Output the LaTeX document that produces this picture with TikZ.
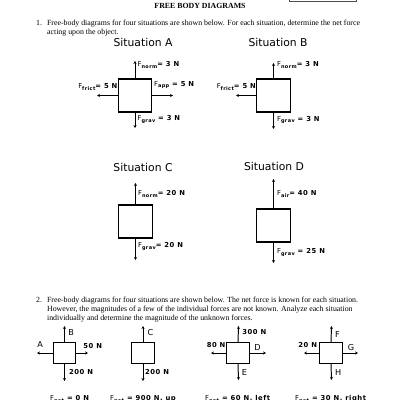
\documentclass[tikz,border=0pt]{standalone}
\usepackage{fontspec}
\setmainfont{Liberation Serif}
\newfontfamily\sitfont{DejaVu Sans}
\newfontfamily\pixfont[LetterSpace=8]{DejaVu Sans}
\usetikzlibrary{arrows.meta}
\newcommand\Fsub[1]{{\mdseries F}\raisebox{-2.4pt}{\fontsize{7.6}{8}\selectfont #1}}
\begin{document}
\begin{tikzpicture}[x=1.53pt,y=-1.53pt,
  body/.style={font=\fontsize{12}{13.8}\selectfont, anchor=base west, inner sep=0pt},
  sit/.style={font=\sitfont\fontsize{16.5}{18}\selectfont, anchor=base, inner sep=0pt},
  flab/.style={font=\pixfont\bfseries\fontsize{10.4}{11}\selectfont, anchor=base west, inner sep=0pt},
  flabr/.style={flab, anchor=base east},
  letter/.style={font=\sitfont\fontsize{12.5}{14}\selectfont, anchor=base west, inner sep=0pt},
  bigbox/.style={draw, line width=1.7pt, minimum width=51pt, minimum height=50.5pt, inner sep=0pt, outer sep=0pt},
  smallbox/.style={draw, line width=1.6pt, minimum width=34pt, minimum height=33.5pt, inner sep=0pt, outer sep=0pt},
  frc/.style={line width=1.5pt, -{Stealth[length=4.5pt,width=4.5pt]}}]
\useasboundingbox (0,0) rectangle (400,400);

% header
\node[draw=black!70, line width=0.8pt, minimum width=102pt, minimum height=14pt, anchor=south west, inner sep=0pt] (namebox) at (289,2) {};
\node[font=\bfseries\fontsize{12}{14}\selectfont, anchor=base, inner sep=0pt] (title) at (200,8.6) {FREE BODY DIAGRAMS};

% question 1
\node[body] (n1) at (36,26) {1.};
\node[body] (q1a) at (47,26) {Free-body diagrams for four situations are shown below. For each situation, determine the net force};
\node[body] (q1b) at (47,35) {acting upon the object.};

% Situation A
\node[sit] (sA) at (143,46.5) {Situation A};
\node[bigbox] (boxA) at (135,95.5) {};
\coordinate (Aup) at (135,61);
\coordinate (Adn) at (135,128);
\coordinate (Art) at (173,95.5);
\coordinate (Alf) at (97,95.5);
\draw[frc] (boxA.north) -- (Aup);
\draw[frc] (boxA.south) -- (Adn);
\draw[frc] (boxA.east) -- (Art);
\draw[frc] (boxA.west) -- (Alf);
\node[flab] (Anorm) at (137.5,66.8) {\Fsub{norm}= 3 N};
\node[flab] (Aapp) at (154,86.3) {\Fsub{app} = 5 N};
\node[flabr] (Afr) at (117.5,89) {\Fsub{frict}= 5 N};
\node[flab] (Agrav) at (137.5,120.5) {\Fsub{grav} = 3 N};

% Situation B
\node[sit] (sB) at (278,46.5) {Situation B};
\node[bigbox] (boxB) at (273.5,95.5) {};
\coordinate (Bup) at (273.5,63);
\coordinate (Bdn) at (273.5,129);
\coordinate (Blf) at (236,95.5);
\draw[frc] (boxB.north) -- (Bup);
\draw[frc] (boxB.south) -- (Bdn);
\draw[frc] (boxB.west) -- (Blf);
\node[flab] (Bnorm) at (277,67) {\Fsub{norm}= 3 N};
\node[flabr] (Bfr) at (256,89) {\Fsub{frict}= 5 N};
\node[flab] (Bgrav) at (277,121.3) {\Fsub{grav} = 3 N};

% Situation C
\node[sit] (sC) at (143,171.5) {Situation C};
\node[bigbox] (boxC) at (135.5,221.5) {};
\coordinate (Cup) at (135.5,183);
\coordinate (Cdn) at (135.5,260);
\draw[frc] (boxC.north) -- (Cup);
\draw[frc] (boxC.south) -- (Cdn);
\node[flab] (Cnorm) at (138,195.5) {\Fsub{norm}= 20 N};
\node[flab] (Cgrav) at (138,247.5) {\Fsub{grav}= 20 N};

% Situation D
\node[sit] (sD) at (274,170.5) {Situation D};
\node[bigbox] (boxD) at (273.5,225.5) {};
\coordinate (Dup) at (273.5,179);
\coordinate (Ddn) at (273.5,263);
\draw[frc] (boxD.north) -- (Dup);
\draw[frc] (boxD.south) -- (Ddn);
\node[flab] (Dair) at (277,195.5) {\Fsub{air}= 40 N};
\node[flab] (Dgrav) at (277,253.5) {\Fsub{grav} = 25 N};

% question 2
\node[body] (n2) at (36,302) {2.};
\node[body] (q2a) at (47,302) {Free-body diagrams for four situations are shown below. The net force is known for each situation.};
\node[body] (q2b) at (47,311) {However, the magnitudes of a few of the individual forces are not known. Analyze each situation};
\node[body] (q2c) at (47,320) {individually and determine the magnitude of the unknown forces.};

% diagram 1
\node[smallbox] (b1) at (64.5,353) {};
\coordinate (b1up) at (64.5,326);
\coordinate (b1dn) at (64.5,381);
\coordinate (b1lf) at (37,353);
\coordinate (b1rt) at (88,353);
\draw[frc] (b1.north) -- (b1up);
\draw[frc] (b1.south) -- (b1dn);
\draw[frc] (b1.west) -- (b1lf);
\draw[frc] (b1.east) -- (b1rt);
\node[letter] (LB) at (68.3,335) {B};
\node[letter] (LA) at (37.3,347) {A};
\node[flab] (L50) at (83.3,348.3) {50 N};
\node[flab] (L200a) at (69,374.3) {200 N};

% diagram 2
\node[smallbox] (b2) at (143,353) {};
\coordinate (b2up) at (143,326);
\coordinate (b2dn) at (143,381);
\draw[frc] (b2.north) -- (b2up);
\draw[frc] (b2.south) -- (b2dn);
\node[letter] (LC) at (147.5,335) {C};
\node[flab] (L200b) at (145,374.3) {200 N};

% diagram 3
\node[smallbox] (b3) at (238,353) {};
\coordinate (b3up) at (238.5,326);
\coordinate (b3dn) at (238.5,380);
\coordinate (b3lf) at (211,353);
\coordinate (b3rt) at (266,353);
\draw[frc] (b3.north) -- (b3up);
\draw[frc] (b3.south) -- (b3dn);
\draw[frc] (b3.west) -- (b3lf);
\draw[frc] (b3.east) -- (b3rt);
\node[flab] (L300) at (242.3,334) {300 N};
\node[flab] (L80) at (206.7,347.7) {80 N};
\node[letter] (LD) at (254.3,350) {D};
\node[letter] (LE) at (241.7,375.7) {E};

% diagram 4
\node[smallbox] (b4) at (331,353) {};
\coordinate (b4up) at (331.5,326);
\coordinate (b4dn) at (331.5,380);
\coordinate (b4lf) at (304,353);
\coordinate (b4rt) at (358,353);
\draw[frc] (b4.north) -- (b4up);
\draw[frc] (b4.south) -- (b4dn);
\draw[frc] (b4.west) -- (b4lf);
\draw[frc] (b4.east) -- (b4rt);
\node[letter] (LF) at (335,337) {F};
\node[flab] (L20) at (298.3,347.7) {20 N};
\node[letter] (LG) at (347.7,350) {G};
\node[letter] (LH) at (335,375.7) {H};

% net forces (cut at page edge, as in the reference)
\node[flab] (net1) at (50,400.5) {\Fsub{net} = 0 N};
\node[flab] (net2) at (110,400.5) {\Fsub{net} = 900 N, up};
\node[flab] (net3) at (205,400.5) {\Fsub{net} = 60 N, left};
\node[flab] (net4) at (295,400.5) {\Fsub{net} = 30 N, right};
\end{tikzpicture}
\end{document}
